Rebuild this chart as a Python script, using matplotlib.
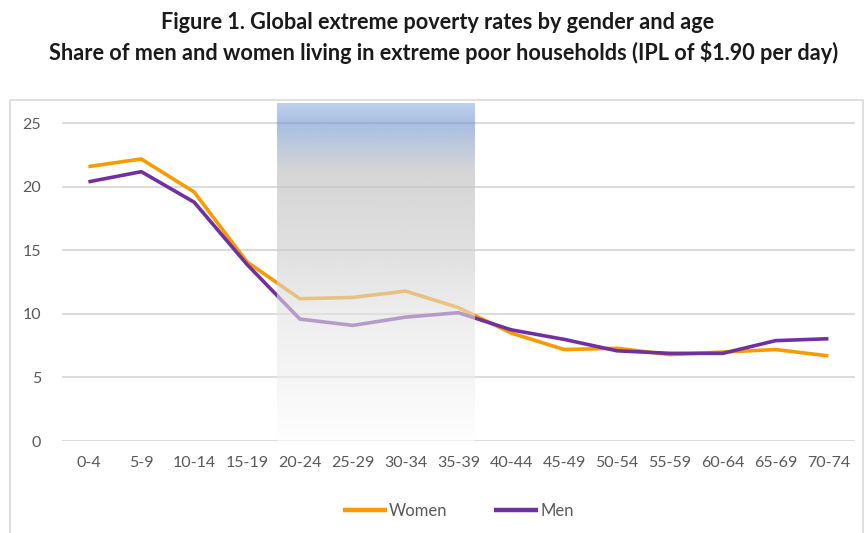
import numpy as np
import matplotlib; matplotlib.use("Agg"); import matplotlib.pyplot as plt
from matplotlib.patches import Rectangle

plt.rcParams["font.family"] = ["Lato", "DejaVu Sans"]

ages = ["0-4","5-9","10-14","15-19","20-24","25-29","30-34","35-39",
        "40-44","45-49","50-54","55-59","60-64","65-69","70-74"]
women = [21.6, 22.2, 19.6, 14.1, 11.2, 11.3, 11.8, 10.5, 8.5, 7.2, 7.3, 6.8, 7.0, 7.2, 6.7]
men   = [20.4, 21.2, 18.8, 13.9, 9.6, 9.1, 9.75, 10.1, 8.75, 8.0, 7.1, 6.9, 6.9, 7.9, 8.05]
yticks = [0, 5, 10, 15, 20, 25]
band = (3.57, 7.3)   # highlighted age span (x, category units)

C_W = "#f79b00"; C_M = "#7030a0"; GREY = "#595959"

fig = plt.figure(figsize=(8.67, 5.33), dpi=100)
ax = fig.add_axes([0.0715, 0.1726, 0.9145, 0.634])
x = np.arange(len(ages))
ax.plot(x, women, color=C_W, lw=2.6, label="Women", zorder=3, solid_capstyle="butt")
ax.plot(x, men, color=C_M, lw=2.6, label="Men", zorder=4, solid_capstyle="butt")

ax.yaxis.grid(True, color="#d9d9d9", lw=1.3)
ax.set_axisbelow(True)
for s in ax.spines.values(): s.set_visible(False)
ax.tick_params(length=0, colors=GREY, labelsize=11.5)
ax.tick_params(axis="y", pad=15)
ax.tick_params(axis="x", pad=11)
ax.set_yticks(yticks)
ax.set_xticks(x); ax.set_xticklabels(ages)

# gradient overlay band (drawn on top of the lines, semi-transparent)
ys = np.linspace(1, 0, 256)  # top -> bottom, as fraction of height
stops_y = [1.0, 0.94, 0.80, 0.55, 0.38, 0.2, 0.06, 0.0]
stops_c = np.array([[190,208,236],[169,191,227],[214,214,214],[225,225,225],
                    [238,238,238],[245,245,245],[252,252,252],[255,255,255]]) / 255.0
disp = np.stack([np.interp(ys, stops_y[::-1], stops_c[::-1, k]) for k in range(3)], axis=1)
a = 0.6
col = np.clip((disp - (1 - a)) / a, 0, 1)
img = np.zeros((256, 1, 4)); img[:, 0, :3] = col; img[:, 0, 3] = a
ax.imshow(img, extent=[band[0], band[1], 0, 26.6], aspect="auto", zorder=5, interpolation="bilinear")
ax.set_xlim(-0.5, len(ages) - 0.5)
ax.set_ylim(0, 26.6)

leg = ax.legend(loc="upper center", bbox_to_anchor=(0.5, -0.14), ncol=2, frameon=False,
                handlelength=2.6, handletextpad=0.15, columnspacing=2.8, fontsize=12)
for t in leg.get_texts(): t.set_color(GREY)
for h in leg.get_lines(): h.set_linewidth(3.2)

fig.patches.append(Rectangle((10/867, -0.02), 853/867, (533-100)/533 + 0.02, transform=fig.transFigure,
                             fill=False, edgecolor="#d9d9d9", lw=1.2))
fig.text(0.505, 0.958, "Figure 1. Global extreme poverty rates by gender and age",
         ha="center", va="center", fontsize=15.6, fontweight="bold", color="#1a1a1a")
fig.text(0.512, 0.902, "Share of men and women living in extreme poor households (IPL of $1.90 per day)",
         ha="center", va="center", fontsize=15.6, fontweight="bold", color="#1a1a1a")

fig.savefig("out.png", dpi=100)
